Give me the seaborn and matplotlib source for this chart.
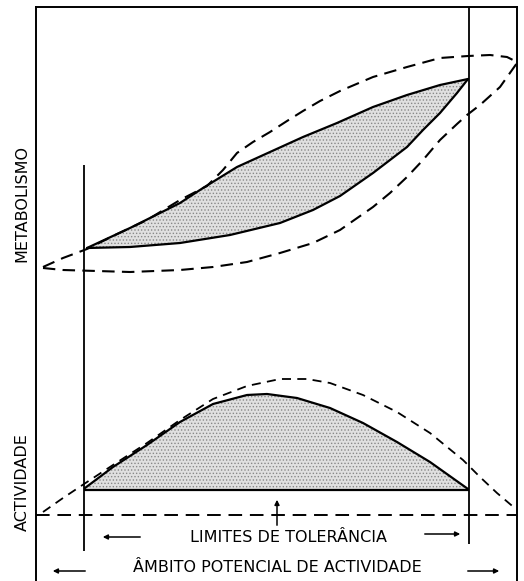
import matplotlib
matplotlib.use("Agg")
import matplotlib.pyplot as plt
import seaborn as sns

sns.set_style("white")
plt.rcParams['font.family'] = ['DejaVu Sans']
plt.rcParams['text.color'] = 'black'
plt.rcParams['hatch.linewidth'] = 0.6

# gradient position (x) and response level (y, read downward from the scan top)
# --- metabolism panel
met_tol_upper_x = [87, 130, 180, 203, 237, 270, 303, 337, 373, 407, 440, 468]
met_tol_upper_y = [248, 228, 203, 188, 167, 152, 137, 123, 107, 95, 85, 79]
met_tol_lower_x = [87, 130, 180, 230, 280, 313, 340, 373, 390, 407, 423, 440, 457, 468]
met_tol_lower_y = [248, 247, 243, 235, 223, 210, 196, 173, 160, 147, 130, 113, 93, 79]

met_pot_upper_x = [43, 63, 87, 113, 147, 180, 207, 223, 237, 253, 270, 287, 303, 320, 340,
                   373, 407, 440, 468, 490, 507, 517]
met_pot_upper_y = [267, 258, 249, 236, 220, 200, 186, 170, 153, 142, 132, 121, 111, 101, 91,
                   77, 67, 58, 56, 55, 57, 62]
met_pot_lower_x = [517, 500, 480, 467, 457, 440, 423, 407, 390, 373, 340, 313, 280, 247,
                   213, 180, 130, 97, 63, 43]
met_pot_lower_y = [63, 87, 105, 115, 124, 140, 160, 177, 193, 207, 230, 243, 253, 262,
                   267, 270, 272, 271, 270, 268]

# --- activity panel
act_tol_x = [85, 113, 147, 180, 213, 247, 267, 297, 330, 363, 397, 430, 468]
act_tol_y = [488, 467, 445, 422, 404, 395, 394, 398, 408, 423, 442, 462, 489]
act_base = 490

act_pot_x = [43, 63, 84, 113, 147, 180, 213, 247, 280, 307, 330, 363, 397, 430, 463, 480, 497, 517]
act_pot_y = [512, 498, 484, 465, 443, 420, 399, 386, 379, 379, 383, 395, 412, 433, 460, 477, 493, 510]
act_zero = 515

# tolerance limits (inner verticals) and frame
tol_left, tol_right = 84, 469
frame_left, frame_right, frame_top = 36, 517, 7

fig = plt.figure(figsize=(5.24, 5.81), dpi=100)
ax = fig.add_axes([frame_left / 524, 0, (frame_right - frame_left) / 524, (581 - frame_top) / 581])
ax.set_xlim(frame_left, frame_right)
ax.set_ylim(581, frame_top)
ax.set_xticks([])
ax.set_yticks([])
for s in ['left', 'top', 'right']:
    ax.spines[s].set_visible(True)
    ax.spines[s].set_color('black')
    ax.spines[s].set_linewidth(1.4)
ax.spines['bottom'].set_visible(False)

# stippled tolerance areas
ax.fill(met_tol_upper_x + met_tol_lower_x[::-1], met_tol_upper_y + met_tol_lower_y[::-1],
        facecolor='#e0e0e0', hatch='.....', edgecolor='#888888', linewidth=0, zorder=1)
ax.fill_between(act_tol_x, act_tol_y, act_base,
                facecolor='#e0e0e0', hatch='.....', edgecolor='#888888', linewidth=0, zorder=1)

# solid tolerance curves
for xs, ys in [(met_tol_upper_x, met_tol_upper_y), (met_tol_lower_x, met_tol_lower_y),
               (act_tol_x, act_tol_y)]:
    sns.lineplot(x=xs, y=ys, sort=False, estimator=None, ax=ax, color='black', lw=1.6)
ax.hlines(act_base, tol_left, tol_right, color='black', lw=1.6)

# dashed potential curves
sns.lineplot(x=met_pot_upper_x + met_pot_lower_x, y=met_pot_upper_y + met_pot_lower_y,
             sort=False, estimator=None, ax=ax, color='black', lw=1.5, linestyle=(0, (6, 3.5)))
sns.lineplot(x=act_pot_x, y=act_pot_y, sort=False, estimator=None, ax=ax,
             color='black', lw=1.3, linestyle=(0, (5, 3.5)))
ax.hlines(act_zero, frame_left, frame_right, color='black', lw=1.4, linestyles=[(0, (7, 4))])

# tolerance limits
ax.vlines(tol_left, 165, 551, color='black', lw=1.3)
ax.vlines(tol_right, frame_top, 544, color='black', lw=1.3)

# optimum marker
ax.annotate('', xy=(277, 497), xytext=(277, 528),
            arrowprops=dict(arrowstyle='-|>', color='black', lw=1.1, mutation_scale=7))

# range arrows
arr = dict(arrowstyle='-|>', color='black', lw=1.1, mutation_scale=7)
ax.annotate('', xy=(100, 537), xytext=(143, 537), arrowprops=arr, annotation_clip=False)
ax.annotate('', xy=(463, 534), xytext=(422, 534), arrowprops=arr, annotation_clip=False)
ax.annotate('', xy=(50, 571), xytext=(88, 571), arrowprops=arr, annotation_clip=False)
ax.annotate('', xy=(502, 571), xytext=(465, 571), arrowprops=arr, annotation_clip=False)

ax.text(289, 537, 'LIMITES DE TOLERÂNCIA', ha='center', va='center', fontsize=11.5)
ax.text(277, 568, 'ÂMBITO POTENCIAL DE ACTIVIDADE', ha='center', va='center', fontsize=11.5)
ax.text(22, 203, 'METABOLISMO', rotation=90, ha='center', va='center', fontsize=11.5, clip_on=False)
ax.text(22, 482, 'ACTIVIDADE', rotation=90, ha='center', va='center', fontsize=11.5, clip_on=False)

fig.savefig('out.png', dpi=100, facecolor='white')
